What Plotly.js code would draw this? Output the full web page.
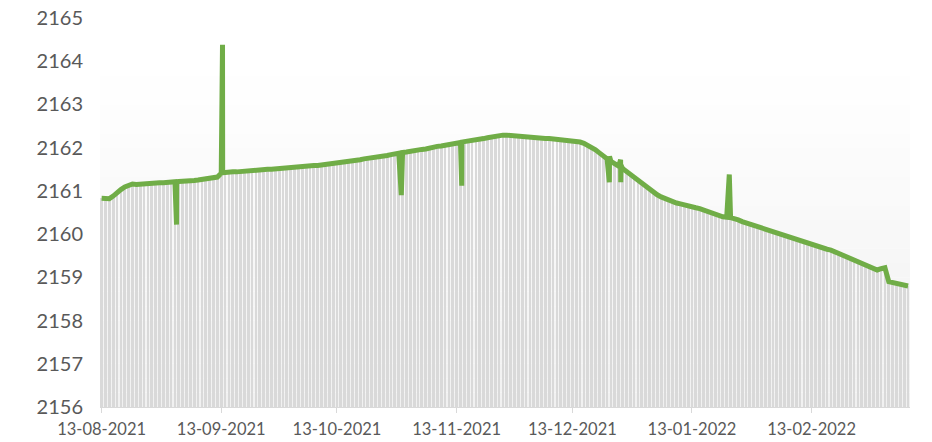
<!DOCTYPE html>
<html>
<head>
<meta charset="utf-8">
<script src="https://cdn.plot.ly/plotly-3.0.1.min.js"></script>
<style>html,body{margin:0;padding:0;background:#fff;}#chart{width:932px;height:442px;}</style>
</head>
<body>
<div id="chart"></div>
<script>
// ---- data ----
const startDate = "2021-08-13";
const dailyValues = [
 2160.83,2160.83,2160.82,2160.88,2160.97,2161.03,2161.09,2161.13,2161.16,2161.15,
 2161.16,2161.17,2161.17,2161.18,2161.18,2161.19,2161.19,2161.20,2161.21,2161.21,
 2161.22,2161.22,2161.23,2161.24,2161.24,2161.25,2161.26,2161.27,2161.28,2161.29,
 2161.32,2161.41,2161.43,2161.43,2161.44,2161.44,2161.45,2161.46,2161.46,2161.47,
 2161.48,2161.48,2161.49,2161.50,2161.50,2161.51,2161.52,2161.52,2161.53,2161.54,
 2161.55,2161.55,2161.56,2161.57,2161.58,2161.59,2161.59,2161.60,2161.61,2161.63,
 2161.64,2161.65,2161.67,2161.68,2161.69,2161.70,2161.71,2161.72,2161.74,2161.75,
 2161.77,2161.78,2161.80,2161.81,2161.82,2161.84,2161.85,2161.87,2161.89,2161.90,
 2161.92,2161.93,2161.94,2161.96,2161.97,2162.00,2162.01,2162.03,2162.04,2162.06,
 2162.07,2162.09,2162.10,2162.12,2162.14,2162.15,2162.16,2162.18,2162.20,2162.21,
 2162.23,2162.25,2162.26,2162.28,2162.29,2162.29,2162.28,2162.28,2162.27,2162.26,
 2162.25,2162.24,2162.24,2162.23,2162.22,2162.21,2162.21,2162.20,2162.19,2162.18,
 2162.17,2162.16,2162.16,2162.15,2162.13,2162.10,2162.06,2162.01,2161.95,2161.88,
 2161.81,2161.74,2161.68,2161.62,2161.57,2161.52,2161.45,2161.37,2161.30,2161.23,
 2161.16,2161.09,2161.03,2160.97,2160.91,2160.86,2160.82,2160.79,2160.75,2160.72,
 2160.70,2160.67,2160.65,2160.62,2160.61,2160.59,2160.56,2160.53,2160.49,2160.45,
 2160.41,2160.40,2160.39,2160.38,2160.36,2160.33,2160.29,2160.26,2160.22,2160.19,
 2160.16,2160.13,2160.10,2160.07,2160.04,2160.01,2159.98,2159.96,2159.93,2159.90,
 2159.88,2159.85,2159.82,2159.80,2159.77,2159.74,2159.71,2159.68,2159.65,2159.63,
 2159.59,2159.56,2159.53,2159.50,2159.45,2159.40,2159.36,2159.34,2159.30,2159.26,
 2159.20,2159.17,2159.20,2159.22,2158.90,2158.88,2158.88,2158.85,2158.82,2158.80
];
// intra-day readings (spike and return readings)
const spikeTimes = [
 "2021-09-01 10:00","2021-09-01 11:00",
 "2021-09-13 08:00","2021-09-13 09:00",
 "2021-10-29 16:00","2021-10-29 17:00",
 "2021-11-14 08:00","2021-11-14 09:00",
 "2021-12-22 14:00","2021-12-22 15:00",
 "2021-12-25 12:00","2021-12-25 13:00","2021-12-25 14:00",
 "2022-01-22 16:00"
];
const spikeValues = [
 2160.22, 2161.21,
 2164.38, 2161.42,
 2160.90, 2161.89,
 2161.12, 2162.13,
 2161.20, 2161.80,
 2161.72, 2161.20, 2161.60,
 2161.38
];
const tickDates = ["2021-08-13","2021-09-13","2021-10-13","2021-11-13","2021-12-13","2022-01-13","2022-02-13"];
const tickLabels = ["13-08-2021","13-09-2021","13-10-2021","13-11-2021","13-12-2021","13-01-2022","13-02-2022"];
const yTicks = [2156,2157,2158,2159,2160,2161,2162,2163,2164,2165];

// ---- build ----
const DAY = 86400000;
function fmt(ms){ const d=new Date(ms); const p=n=>String(n).padStart(2,'0');
  return d.getUTCFullYear()+'-'+p(d.getUTCMonth()+1)+'-'+p(d.getUTCDate())+' '+p(d.getUTCHours())+':'+p(d.getUTCMinutes()); }
const t0 = Date.parse(startDate+"T00:00:00Z");
const dates = dailyValues.map((_,i)=>fmt(t0+i*DAY));
const spikeMs = spikeTimes.map(s=>Date.parse(s.replace(' ','T')+':00Z'));
const lineX=[], lineY=[];
dailyValues.forEach((v,i)=>{
  lineX.push(dates[i]); lineY.push(v);
  const a=t0+i*DAY, b=a+DAY;
  spikeMs.forEach((m,k)=>{ if(m>a && m<b){ lineX.push(spikeTimes[k]); lineY.push(spikeValues[k]); } });
});

// background gradient bands (style only)
const shapes=[];
const nb=24;
for(let i=0;i<nb;i++){
  const f=i/(nb-1);
  const c=Math.round(255-(255-241)*f);
  shapes.push({type:'rect',xref:'paper',yref:'y',layer:'below',line:{width:0},
    x0:0,x1:1,y0:2164-(i+1)*(8/nb),y1:2164-i*(8/nb),fillcolor:`rgb(${c},${c},${c})`});
}

const traces=[
 {type:'bar',x:dates,y:dailyValues,width:0.72*DAY,marker:{color:'#d9d9d9',line:{width:0}},hoverinfo:'skip',showlegend:false},
 {type:'scatter',mode:'lines',x:lineX,y:lineY,line:{color:'#70ad47',width:5},showlegend:false}
];
const layout={
 width:932,height:442,
 margin:{l:100,r:22,t:18,b:35},
 paper_bgcolor:'#ffffff',plot_bgcolor:'rgba(0,0,0,0)',
 font:{family:'Lato, "Open Sans", sans-serif',color:'#595959'},
 shapes:shapes,
 bargap:0,
 xaxis:{type:'date',range:["2021-08-12 14:00","2022-03-10 12:00"],tickvals:tickDates,ticktext:tickLabels,
   showgrid:false,zeroline:false,showline:true,linecolor:'#d9d9d9',linewidth:1.2,
   ticks:'outside',ticklen:5,tickcolor:'#d9d9d9',tickfont:{size:16.5,color:'#595959'},ticklabelstandoff:2},
 yaxis:{range:[2156,2165],tickvals:yTicks,showgrid:false,zeroline:false,showline:false,ticks:'',
   tickfont:{size:20,color:'#595959'},ticklabelstandoff:16}
};
Plotly.newPlot('chart',traces,layout,{staticPlot:true,displayModeBar:false});
</script>
</body>
</html>
